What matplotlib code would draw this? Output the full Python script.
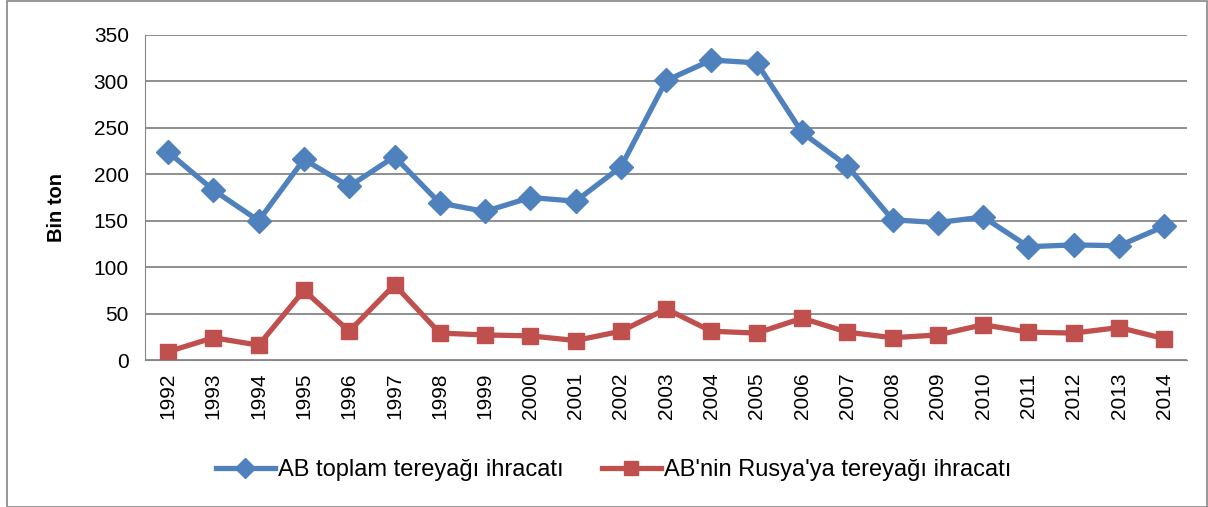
import matplotlib.pyplot as plt
from matplotlib.patches import Rectangle

years = ['1992', '1993', '1994', '1995', '1996', '1997', '1998', '1999', '2000', '2001', '2002',
         '2003', '2004', '2005', '2006', '2007', '2008', '2009', '2010', '2011', '2012', '2013', '2014']
ab_total = [224, 183, 150, 216, 187, 219, 169, 160, 175, 171, 208,
            301, 323, 320, 245, 209, 151, 148, 154, 122, 124, 123, 144]
ab_russia = [9, 24, 16, 75, 31, 81, 29, 27, 26, 21, 31,
             55, 31, 29, 45, 30, 24, 27, 38, 30, 29, 35, 23]

blue = '#4F81BD'
red = '#C0504D'

plt.rcParams['font.family'] = ['Liberation Sans', 'DejaVu Sans']

fig = plt.figure(figsize=(12.08, 5.07), dpi=100)
ax = fig.add_axes([0.1204, 0.2899, 0.8622, 0.6411])

x = list(range(len(years)))
ax.plot(x, ab_total, color=blue, lw=3.8, marker='D', ms=12, label='AB toplam tereyağı ihracatı')
ax.plot(x, ab_russia, color=red, lw=3.8, marker='s', ms=12, label="AB'nin Rusya'ya tereyağı ihracatı")

ax.set_xlim(-0.5, len(years) - 0.5)
ax.set_ylim(0, 350)
ax.set_yticks(range(0, 351, 50))
ax.set_xticks(x)
ax.set_xticklabels(years, rotation=90)
ax.tick_params(axis='both', labelsize=15, length=0)
ax.tick_params(axis='x', pad=9)
ax.tick_params(axis='y', pad=12)
ax.yaxis.grid(True, color='#868686', lw=1.3)
ax.set_axisbelow(True)
for side in ['top', 'right']:
    ax.spines[side].set_visible(False)
ax.spines['left'].set_color('#868686')
ax.spines['bottom'].set_color('#868686')
ax.set_ylabel('Bin ton', fontsize=14.5, fontweight='bold')
ax.yaxis.set_label_coords(-0.076, 0.47)

fig.legend(*ax.get_legend_handles_labels(), loc='center', bbox_to_anchor=(0.508, 0.073),
           ncol=2, frameon=False, fontsize=17, handlelength=2.5, columnspacing=1.6,
           handletextpad=0.15, markerscale=0.85)

fig.patches.append(Rectangle((0.006, 0.0), 0.993, 0.999, transform=fig.transFigure,
                             fill=False, edgecolor='#868686', lw=1.2))

fig.savefig('out.png', dpi=100)
